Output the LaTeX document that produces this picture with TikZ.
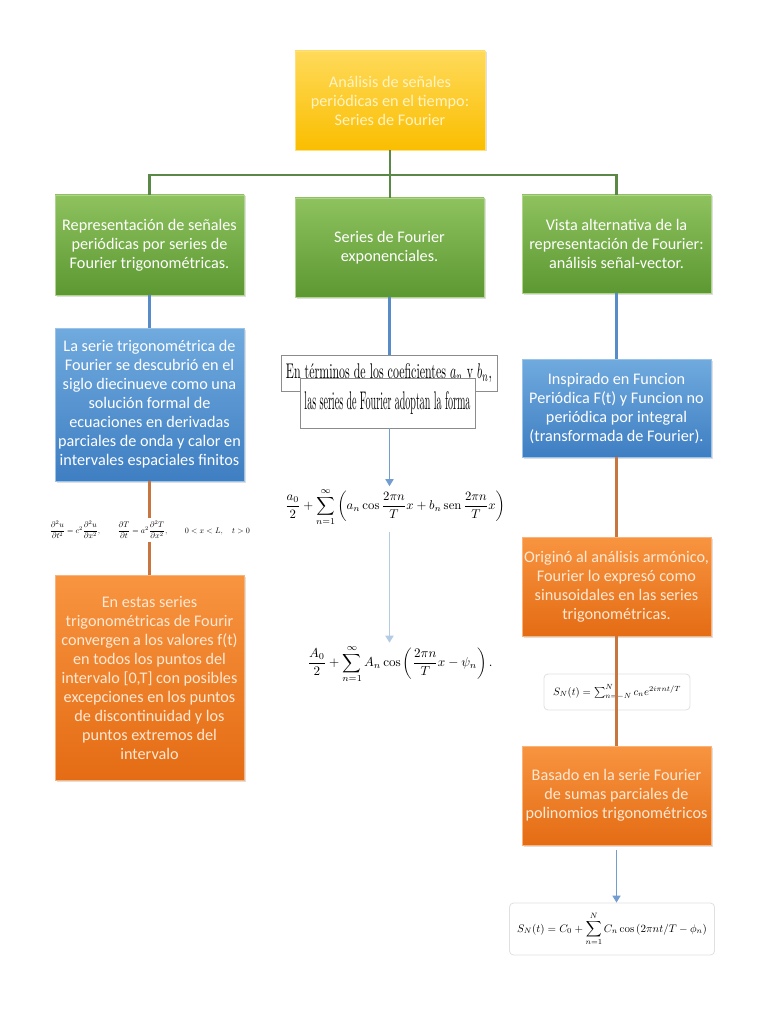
\documentclass[tikz,border=0pt]{standalone}
\usepackage{fontspec}
\usepackage{amsmath}
\usepackage{graphicx}
\newfontfamily\cfont{Carlito}
\usetikzlibrary{arrows.meta,shadows}
\definecolor{ytop}{RGB}{255,218,90}
\definecolor{ybot}{RGB}{250,190,0}
\definecolor{gtop}{RGB}{142,194,94}
\definecolor{gbot}{RGB}{92,152,50}
\definecolor{btop}{RGB}{112,170,222}
\definecolor{bbot}{RGB}{62,126,194}
\definecolor{otop}{RGB}{248,148,64}
\definecolor{obot}{RGB}{228,108,20}
\definecolor{glinec}{RGB}{90,136,70}
\definecolor{blinec}{RGB}{88,140,200}
\definecolor{olinec}{RGB}{200,118,64}
\definecolor{ytext}{RGB}{255,243,195}
\definecolor{otext}{RGB}{253,232,212}
\tikzset{
  basebox/.style={rectangle, minimum width=189pt, inner sep=1pt, align=center,
    font=\cfont\fontsize{16.2}{19}\selectfont, line width=0.8pt,
    drop shadow={opacity=0.25, shadow xshift=1.5pt, shadow yshift=-1.5pt}},
  ybox/.style={basebox, top color=ytop, bottom color=ybot, draw=ytop!80!white, text=ytext},
  gbox/.style={basebox, top color=gtop, bottom color=gbot, draw=gtop!70!white, text=white},
  bbox/.style={basebox, top color=btop, bottom color=bbot, draw=btop!70!white, text=white},
  obox/.style={basebox, top color=otop, bottom color=obot, draw=otop!70!white, text=otext},
  gline/.style={draw=glinec, line width=2.4pt},
  bline/.style={draw=blinec, line width=2.4pt},
  oline/.style={draw=olinec, line width=2.4pt},
  barrow/.style={draw=blinec!85!white, line width=1.6pt, -{Triangle[width=8pt,length=7pt]}},
  farrow/.style={draw=blinec!45!white, line width=1.6pt, -{Triangle[width=8pt,length=7pt]}},
  tbox/.style={rectangle, draw=black!45, fill=white, line width=0.5pt, inner sep=0pt},
  fbox/.style={rectangle, rounded corners=4pt, draw=black!12, fill=white, line width=0.8pt, inner sep=0pt},
  fplain/.style={inner sep=0pt, fill=white}
}
\begin{document}
\begin{tikzpicture}[x=1pt,y=-1pt]
\useasboundingbox[fill=white] (0,0) rectangle (768,1024);

% top
\node[ybox, minimum width=190pt, minimum height=99pt] (top) at (390,100.5)
  {Análisis de señales\\periódicas en el tiempo:\\Series de Fourier};

% green row
\node[gbox, minimum height=100pt] (g1) at (149.5,245)
  {Representación de señales\\periódicas por series de\\Fourier trigonométricas.};
\node[gbox, minimum height=99pt] (g2) at (389.5,247.5)
  {Series de Fourier\\exponenciales.};
\node[gbox, minimum height=98pt] (g3) at (616.5,244)
  {Vista alternativa de la\\representación de Fourier:\\análisis señal-vector.};

% left column
\node[bbox, minimum height=153pt] (b1) at (149.5,404.5)
  {La serie trigonométrica de\\Fourier se descubrió en el\\siglo diecinueve como una\\solución formal de\\ecuaciones en derivadas\\parciales de onda y calor en\\intervales espaciales finitos};
\node[fplain, inner ysep=3pt] (e1) at (150,530)
  {\resizebox{200pt}{!}{$\dfrac{\partial^2 u}{\partial t^2}=c^2\dfrac{\partial^2 u}{\partial x^2},\qquad \dfrac{\partial T}{\partial t}=a^2\dfrac{\partial^2 T}{\partial x^2},\qquad 0<x<L,\quad t>0$}};
\node[obox, minimum height=205pt] (o1) at (149.5,677.5)
  {En estas series\\trigonométricas de Fourir\\convergen a los valores f(t)\\en todos los puntos del\\intervalo [0,T] con posibles\\excepciones en los puntos\\de discontinuidad y los\\puntos extremos del\\intervalo};

% middle column
\node[tbox, minimum width=216pt, minimum height=36pt] (t1) at (389,373)
  {\raisebox{-2pt}{\resizebox{206pt}{15pt}{En términos de los coeficientes $a_n$ y $b_n$,}}};
\node[tbox, minimum width=175pt, minimum height=50pt] (t2) at (387.5,403)
  {\resizebox{166pt}{18pt}{las series de Fourier adoptan la forma}};
\node[inner sep=2pt] (f1) at (395,507)
  {\resizebox{220pt}{!}{$\displaystyle \frac{a_0}{2}+\sum_{n=1}^{\infty}\left(a_n\cos\frac{2\pi n}{T}x+b_n\,\mathrm{sen}\,\frac{2\pi n}{T}x\right)$}};
\node[inner sep=2pt] (f2) at (400,664)
  {\resizebox{185pt}{!}{$\displaystyle \frac{A_0}{2}+\sum_{n=1}^{\infty}A_n\cos\left(\frac{2\pi n}{T}x-\psi_n\right).$}};

% right column
\node[bbox, minimum height=98pt] (b3) at (616.5,408)
  {Inspirado en Funcion\\Periódica F(t) y Funcion no\\periódica por integral\\(transformada de Fourier).};
\node[obox, minimum height=99pt] (o3) at (616.5,586.5)
  {Originó al análisis armónico,\\Fourier lo expresó como\\sinusoidales en las series\\trigonométricas.};
\node[fbox, minimum width=146pt, minimum height=36pt] (s1) at (617,692)
  {\resizebox{128pt}{!}{$S_N(t)=\sum_{n=-N}^{N} c_n e^{2i\pi nt/T}$}};
\node[obox, minimum height=99pt] (o4) at (616.5,795.5)
  {Basado en la serie Fourier\\de sumas parciales de\\polinomios trigonométricos};
\node[fbox, minimum width=205pt, minimum height=52pt] (s2) at (612,929)
  {\resizebox{190pt}{!}{$\displaystyle S_N(t)=C_0+\sum_{n=1}^{N}C_n\cos\left(2\pi nt/T-\phi_n\right)$}};

% connectors
\coordinate (hub) at (390,175);
\draw[gline] (top.south) -- (hub);
\draw[gline] (hub) -| (g1.north);
\draw[gline] (hub) -- (hub |- g2.north);
\draw[gline] (hub) -| (g3.north);

\draw[bline] (g1.south) -- (b1.north);
\draw[oline] (b1.south) -- (b1.south |- e1.north);
\draw[oline] (b1.south |- e1.south) -- (o1.north);

\draw[bline] (g2.south) -- (g2.south |- t1.north);
\draw[barrow] (t2.south -| g2.south) -- (g2.south |- f1.north);
\draw[farrow, shorten <=4pt] (g2.south |- f1.south) -- (g2.south |- f2.north);

\draw[bline] (g3.south) -- (b3.north);
\draw[oline] (b3.south) -- (o3.north);
\draw[oline] (o3.south) -- (o4.north);
\draw[barrow, shorten <=5pt] (o4.south) -- (o4.south |- s2.north);
\end{tikzpicture}
\end{document}
